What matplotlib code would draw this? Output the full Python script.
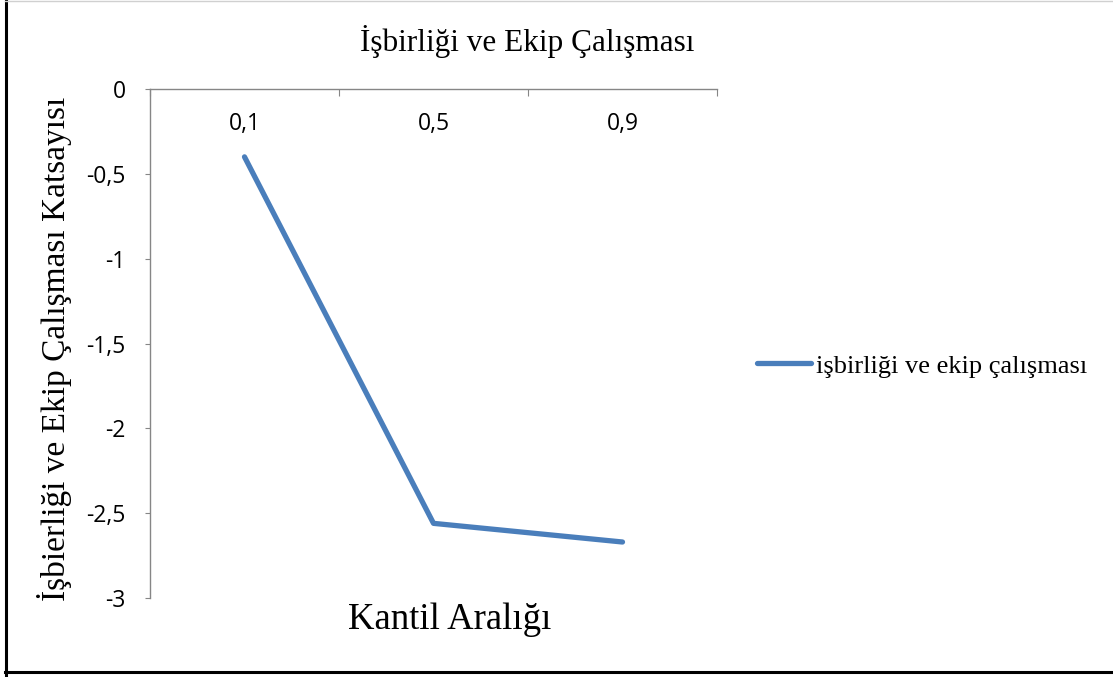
import matplotlib
matplotlib.use("Agg")
import matplotlib.pyplot as plt
from matplotlib.ticker import FuncFormatter, FixedLocator
from matplotlib.lines import Line2D

categories = ["0,1", "0,5", "0,9"]
values = [-0.40, -2.56, -2.67]
series_name = "işbirliği ve ekip çalışması"
title = "İşbirliği ve Ekip Çalışması"
xlabel = "Kantil Aralığı"
ylabel = "İşbierliği ve Ekip Çalışması Katsayısı"
yticks = [0, -0.5, -1, -1.5, -2, -2.5, -3]

serif = "Liberation Serif"
sans = "Open Sans"
axis_gray = "#868686"
line_color = "#4A7EBB"

fig = plt.figure(figsize=(11.13, 6.77), dpi=100)
ax = fig.add_axes([150/1113, 1 - 598/677, 567/1113, 509/677])

x = list(range(len(categories)))
ax.plot(x, values, color=line_color, lw=3.8, solid_capstyle="round", solid_joinstyle="round")

ax.set_xlim(-0.5, len(categories) - 0.5)
ax.set_ylim(-3, 0)

for s in ["right", "bottom"]:
    ax.spines[s].set_visible(False)
for s in ["top", "left"]:
    ax.spines[s].set_color(axis_gray)
    ax.spines[s].set_linewidth(1.0)

ax.set_yticks(yticks)
ax.yaxis.set_major_formatter(FuncFormatter(lambda v, p: ("%g" % v).replace(".", ",")))
ax.tick_params(axis="y", direction="out", length=3.6, color=axis_gray, labelsize=16.5, pad=14)
for t in ax.get_yticklabels():
    t.set_fontfamily(sans)

ax.xaxis.set_ticks_position("top")
ax.xaxis.set_major_locator(FixedLocator([i - 0.5 for i in range(len(categories) + 1)]))
ax.xaxis.set_minor_locator(FixedLocator(x))
ax.xaxis.set_major_formatter(FuncFormatter(lambda v, p: ""))
ax.xaxis.set_minor_formatter(FuncFormatter(lambda v, p: categories[int(round(v))]))
ax.tick_params(axis="x", which="major", direction="in", length=5, color=axis_gray, bottom=False, labelbottom=False)
ax.tick_params(axis="x", which="minor", length=0, top=True, labeltop=True, bottom=False, labelbottom=False, labelsize=16.5, pad=-34)
for t in ax.xaxis.get_minorticklabels():
    t.set_fontfamily(sans)

fig.text(527/1113, 1 - 42/677, title, ha="center", va="center", fontsize=22.5, family=serif)
fig.text(450/1113, 1 - 620/677, xlabel, ha="center", va="center", fontsize=26.5, family=serif)
fig.text(55/1113, 1 - 349/677, ylabel, ha="center", va="center", rotation=90, fontsize=24, family=serif)

handle = Line2D([0], [0], color=line_color, lw=3.8, solid_capstyle="round")
leg = fig.legend([handle], [series_name], loc="center left", bbox_to_anchor=(757/1113, 1 - 366/677),
                 frameon=False, prop={"family": serif, "size": 19}, handlelength=2.05, handletextpad=0.18,
                 borderaxespad=0, borderpad=0)

# outer frame of the chart area
fig.add_artist(Line2D([5.5/1113, 5.5/1113], [0, 1], transform=fig.transFigure, color="black", lw=2.2))
fig.add_artist(Line2D([5/1113, 1], [1 - 672/677, 1 - 672/677], transform=fig.transFigure, color="black", lw=2.2))
fig.add_artist(Line2D([5/1113, 1], [1 - 0.5/677, 1 - 0.5/677], transform=fig.transFigure, color="#d0d0d0", lw=1))

fig.savefig("out.png", dpi=100)
